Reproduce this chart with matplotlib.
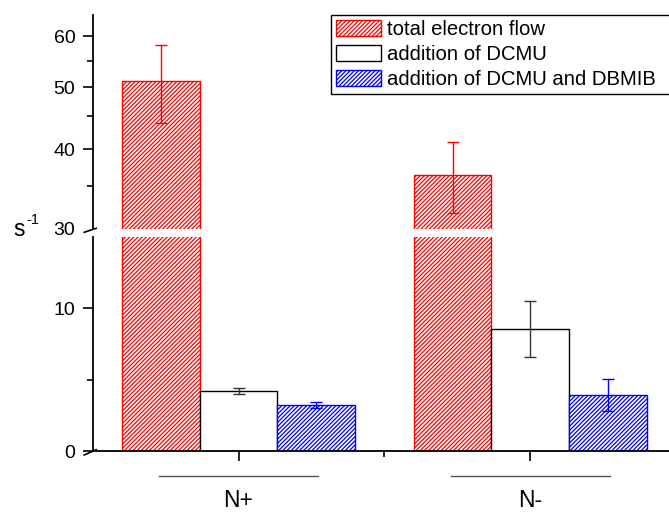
import matplotlib
matplotlib.use("Agg")
import matplotlib.pyplot as plt
import matplotlib.transforms as mtransforms
from matplotlib.ticker import FixedLocator, NullFormatter, FixedFormatter
import numpy as np

plt.rcParams["font.family"] = ["Liberation Sans", "DejaVu Sans"]
plt.rcParams["hatch.linewidth"] = 0.9

# electron flow rates (s^-1), mean and error per culture condition
categories = ["N+", "N-"]
total_flow = [51.1, 36.4]
total_flow_err = [7.1, 4.6]
dcmu = [4.2, 8.55]
dcmu_err = [0.23, 1.96]
dcmu_dbmib = [3.25, 3.92]
dcmu_dbmib_err = [0.21, 1.1]

series = [
    ("total electron flow", total_flow, total_flow_err, "red", "red", "////////"),
    ("addition of DCMU", dcmu, dcmu_err, "black", "#333333", None),
    ("addition of DCMU and DBMIB", dcmu_dbmib, dcmu_dbmib_err, "blue", "blue", "////////"),
]

W, H = 669, 513
fig = plt.figure(figsize=(W / 100, H / 100), dpi=100)

left = 92.7 / W
width = 583.4 / W
ax_top = fig.add_axes([left, (H - 229) / H, width, 214 / H])
ax_bot = fig.add_axes([left, (H - 451) / H, width, 214 / H])

x = np.arange(1, len(categories) + 1)
bw = 0.2664

for ax in (ax_top, ax_bot):
    for i, (label, vals, errs, color, ecolor, hatch) in enumerate(series):
        pos = x + (i - 1) * bw
        ax.bar(pos, vals, width=bw, facecolor="white", edgecolor=color,
               hatch=hatch, linewidth=1.0, label=label)
        ax.errorbar(pos, vals, yerr=errs, fmt="none", ecolor=ecolor,
                    elinewidth=1.0, capsize=4, capthick=1.0)
    ax.set_xlim(0.5, 2.5)
    for side in ("top", "right"):
        ax.spines[side].set_visible(False)
    ax.spines["left"].set_linewidth(1.3)
    ax.spines["bottom"].set_linewidth(1.3)
    ax.tick_params(axis="y", which="major", direction="out", length=7.5,
                   width=1.2, pad=5, labelsize=14)
    ax.tick_params(axis="y", which="minor", direction="out", length=4,
                   width=1.2)

# upper part: log scale from 30
ax_top.set_yscale("log")
ax_top.set_ylim(30, 64.8)
ax_top.yaxis.set_major_locator(FixedLocator([30, 40, 50, 60]))
ax_top.yaxis.set_major_formatter(FixedFormatter(["30", "40", "50", "60"]))
ax_top.yaxis.set_minor_locator(FixedLocator([35, 45, 55]))
ax_top.yaxis.set_minor_formatter(NullFormatter())
ax_top.yaxis.get_major_ticks()[0].tick1line.set_visible(False)
ax_top.spines["bottom"].set_visible(False)
ax_top.set_xticks([])

# lower part: linear from 0 to 15
ax_bot.set_ylim(0, 15)
ax_bot.set_yticks([0, 10])
ax_bot.yaxis.set_minor_locator(FixedLocator([5]))
ax_bot.set_xticks(x)
ax_bot.set_xticklabels([])
ax_bot.xaxis.set_minor_locator(FixedLocator([1.5]))
ax_bot.tick_params(axis="x", which="major", direction="out", length=7.5,
                   width=1.2)
ax_bot.tick_params(axis="x", which="minor", direction="out", length=4,
                   width=1.2)

# group labels with a rule above each
trans = mtransforms.blended_transform_factory(ax_bot.transData, ax_bot.transAxes)
for xc, name in zip(x, categories):
    ax_bot.plot([xc - 0.272, xc + 0.272], [-0.1154, -0.1154], color="#555555",
                linewidth=1.0, transform=trans, clip_on=False)
    ax_bot.text(xc, -0.229, name, transform=trans, ha="center", va="center",
                fontsize=16.5)

# axis break marks
sx = 1 / 583.4
sy = 1 / 214
ax_top.plot([-8.5 * sx, 3.5 * sx], [-3.3 * sy, 0.7 * sy], color="black",
            linewidth=1.2, transform=ax_top.transAxes, clip_on=False)
ax_bot.plot([-8.5 * sx, 3.5 * sx], [-4.0 * sy, 1.3 * sy], color="black",
            linewidth=1.2, transform=ax_bot.transAxes, clip_on=False)

# unit label s^-1
fig.text(13 / W, 1 - 229 / H, "s", fontsize=16.5, ha="left", va="center")
fig.text(26.5 / W, 1 - 220 / H, "-1", fontsize=10.5, ha="left", va="center")

handles, labels = ax_top.get_legend_handles_labels()
leg_x0 = (331 - 92.7) / 583.4
leg = ax_top.legend(handles[:3], labels[:3], loc="upper left", mode="expand",
                    bbox_to_anchor=(leg_x0, 0, 1 - leg_x0, 1.0),
                    borderaxespad=0, fontsize=14.6, frameon=True,
                    fancybox=False, edgecolor="black", framealpha=1,
                    handlelength=2.2, handleheight=0.84, handletextpad=0.3,
                    labelspacing=0.3, borderpad=0.25)
leg.get_frame().set_linewidth(1.0)

fig.savefig("out.png", dpi=100)
